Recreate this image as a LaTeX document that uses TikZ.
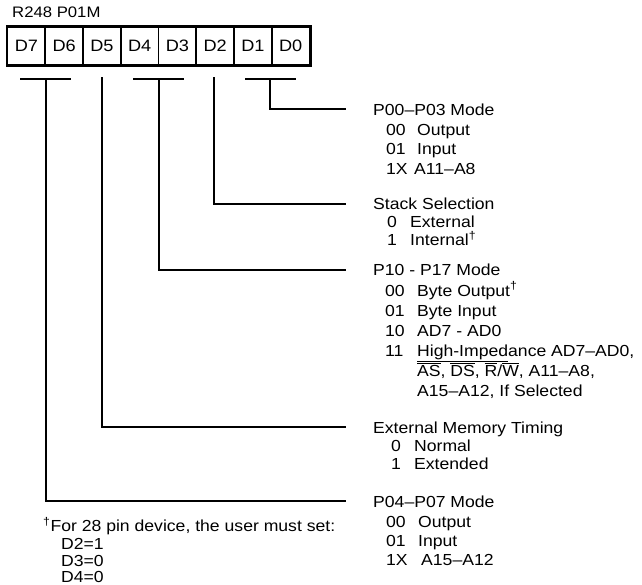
\documentclass[tikz,border=0pt]{standalone}
\usepackage{fontspec}
\setmainfont{Liberation Sans}[FakeStretch=1.1]
\newcommand{\ovl}[1]{$\overline{\hbox{#1}}$}
\newcommand{\unl}[1]{$\underline{\hbox{#1}}$}
\newcommand{\dg}{\textsuperscript{†}}
\newcommand{\nb}[2]{\makebox[#1pt][l]{#2}}
\begin{document}
\begin{tikzpicture}[x=1pt,y=-1pt,
  txt/.style={anchor=base west,inner sep=0pt,font=\fontsize{16}{19}\selectfont},
  ttl/.style={anchor=base west,inner sep=0pt,font=\fontsize{15.2}{18}\selectfont},
  cell/.style={draw,line width=1.6pt,minimum width=37.75pt,minimum height=38pt,inner sep=0pt,font=\fontsize{16.5}{19}\selectfont},
  conn/.style={line width=2pt}]
\useasboundingbox (0,0) rectangle (642,585);

% title
\node[ttl] (title) at (12,18) {R248 P01M};

% register cells
\node[cell] (d7) at (26.375,46) {D7};
\node[cell] (d6) at (64.125,46) {D6};
\node[cell] (d5) at (101.875,46) {D5};
\node[cell] (d4) at (139.625,46) {D4};
\node[cell] (d3) at (177.375,46) {D3};
\node[cell] (d2) at (215.125,46) {D2};
\node[cell] (d1) at (252.875,46) {D1};
\node[cell] (d0) at (290.625,46) {D0};
\draw[line width=2.4pt] (d7.north west) rectangle (d0.south east);

% bar coordinates
\coordinate (b76l) at (20,79);  \coordinate (b76r) at (71,79);  \coordinate (b76) at (45.5,79);
\coordinate (b5) at (102,77.5);
\coordinate (b43l) at (133,79); \coordinate (b43r) at (184,79); \coordinate (b43) at (158.5,79);
\coordinate (b2) at (214,77.5);
\coordinate (b10l) at (245,79); \coordinate (b10r) at (296,79); \coordinate (b10) at (270,79);

% connector ends
\coordinate (e10) at (346,109.5);
\coordinate (e2)  at (346,204);
\coordinate (e43) at (346,270);
\coordinate (e5)  at (346,427);
\coordinate (e76) at (346,501);

\draw[conn] (b76l) -- (b76r);
\draw[conn] (b43l) -- (b43r);
\draw[conn] (b10l) -- (b10r);
\draw[conn] (b10) |- (e10);
\draw[conn] (b2) |- (e2);
\draw[conn] (b43) |- (e43);
\draw[conn] (b5) |- (e5);
\draw[conn] (b76) |- (e76);

% P00-P03
\node[txt] (h10) at (373,116) {P00–P03 Mode};
\node[txt] (h10a) at (386,135.5) {\nb{31}{00}Output};
\node[txt] (h10b) at (386,155) {\nb{31}{01}Input};
\node[txt] (h10c) at (386,174.5) {\nb{28}{1X}A11–A8};

% Stack selection
\node[txt] (h2) at (373,209.5) {Stack Selection};
\node[txt] (h2a) at (387,227.5) {\nb{23}{0}External};
\node[txt] (h2b) at (387,245.5) {\nb{23}{1}Internal\dg};

% P10-P17
\node[txt] (h43) at (373,276) {P10 - P17 Mode};
\node[txt] (h43a) at (385,296) {\nb{32}{00}Byte Output\dg};
\node[txt] (h43b) at (385,316) {\nb{32}{01}Byte Input};
\node[txt] (h43c) at (385,336) {\nb{32}{10}AD7 - AD0};
\node[txt] (h43d) at (385,356) {\nb{32}{11}\unl{High-Imped}ance AD7–AD0,};
\node[txt] (h43e) at (417,376) {\ovl{AS}, \ovl{DS}, \ovl{R}/\ovl{W}, A11–A8,};
\node[txt] (h43f) at (417,396) {A15–A12, If Selected};

% External memory timing
\node[txt] (h5) at (373,433) {External Memory Timing};
\node[txt] (h5a) at (391,451) {\nb{23}{0}Normal};
\node[txt] (h5b) at (391,469) {\nb{23}{1}Extended};

% P04-P07
\node[txt] (h76) at (373,507) {P04–P07 Mode};
\node[txt] (h76a) at (386,527) {\nb{32}{00}Output};
\node[txt] (h76b) at (386,546) {\nb{32}{01}Input};
\node[txt] (h76c) at (386,565) {\nb{35}{1X}A15–A12};

% footnote
\node[txt] (fn) at (43,531.5) {\dg For 28 pin device, the user must set:};
\node[txt] (fn1) at (61,549) {D2=1};
\node[txt] (fn2) at (61,566.5) {D3=0};
\node[txt] (fn3) at (61,582) {D4=0};
\end{tikzpicture}
\end{document}
